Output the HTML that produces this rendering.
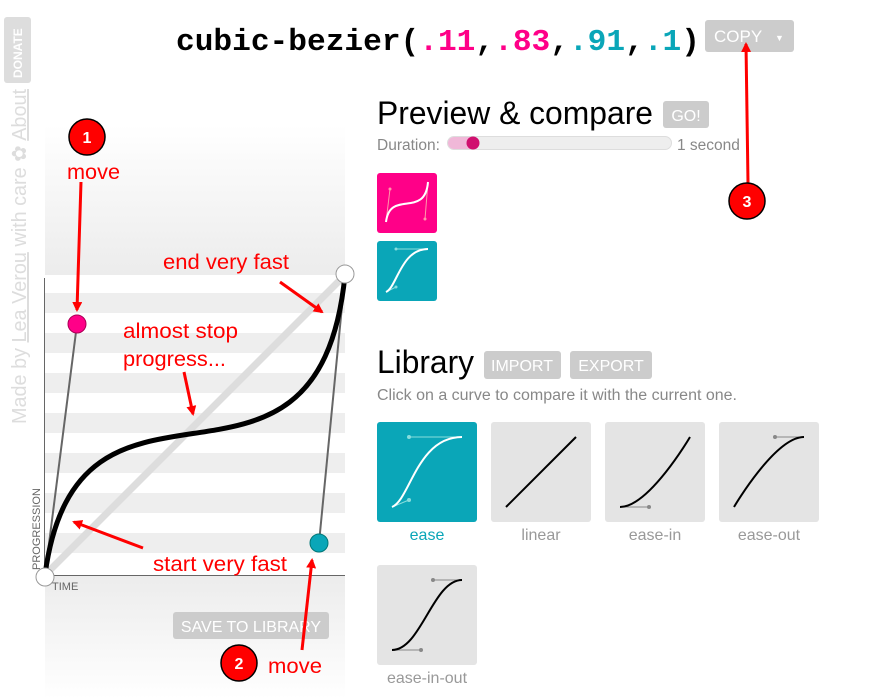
<!DOCTYPE html>
<html><head><meta charset="utf-8"><style>
html,body{margin:0;padding:0;background:#fff;width:889px;height:699px;overflow:hidden}
svg{display:block}
</style></head><body>
<svg width="889" height="699" viewBox="0 0 889 699" xmlns="http://www.w3.org/2000/svg" font-family="Liberation Sans, sans-serif">
<defs>
<linearGradient id="gt" x1="0" y1="0" x2="0" y2="1"><stop offset="0" stop-color="#fff"/><stop offset="1" stop-color="#ececec"/></linearGradient>
<linearGradient id="gb" x1="0" y1="0" x2="0" y2="1"><stop offset="0" stop-color="#ececec"/><stop offset="1" stop-color="#fff"/></linearGradient>
<marker id="ah" markerWidth="10" markerHeight="10" refX="8" refY="5" orient="auto" markerUnits="userSpaceOnUse"><path d="M0,0 L10,5 L0,10 z" fill="#f00"/></marker>
</defs>
<!-- sidebar -->
<rect x="4" y="17" width="27" height="66" rx="3" fill="#ddd"/>
<text transform="translate(22,78) rotate(-90)" font-size="12" font-weight="bold" fill="#fff">DONATE</text>
<text transform="translate(26,424) rotate(-90)" font-size="20" fill="#ddd" textLength="335" lengthAdjust="spacingAndGlyphs">Made by <tspan text-decoration="underline">Lea Verou</tspan> with care ✿ <tspan text-decoration="underline">About</tspan></text>
<!-- graph backgrounds -->
<rect x="45" y="125" width="300" height="150" fill="url(#gt)"/>
<rect x="45" y="575" width="300" height="124" fill="url(#gb)"/>
<g fill="#eee">
<rect x="45" y="293" width="300" height="20"/><rect x="45" y="333" width="300" height="20"/>
<rect x="45" y="373" width="300" height="20"/><rect x="45" y="413" width="300" height="20"/>
<rect x="45" y="453" width="300" height="20"/><rect x="45" y="493" width="300" height="20"/>
<rect x="45" y="533" width="300" height="20"/>
</g>
<line x1="44.5" y1="278" x2="44.5" y2="576" stroke="#666" stroke-width="1"/>
<line x1="44" y1="575.5" x2="345" y2="575.5" stroke="#666" stroke-width="1"/>
<text transform="translate(40,570) rotate(-90)" font-size="11" fill="#666">PROGRESSION</text>
<text x="52" y="590" font-size="11" fill="#666">TIME</text>
<line x1="45" y1="575" x2="345" y2="275" stroke="#ddd" stroke-width="7"/>
<line x1="45" y1="575" x2="77" y2="324" stroke="#666" stroke-width="2"/>
<line x1="345" y1="275" x2="319" y2="543" stroke="#666" stroke-width="2"/>
<path d="M45,575 C78,326 318,545 345,275" fill="none" stroke="#000" stroke-width="5"/>
<circle cx="77" cy="324" r="9" fill="#f08" stroke="#a05" stroke-width="1"/>
<circle cx="319" cy="543" r="9" fill="#0aa6b8" stroke="#077" stroke-width="1"/>
<circle cx="45" cy="577" r="9" fill="#fff" stroke="#999"/>
<circle cx="345" cy="274" r="9" fill="#fff" stroke="#999"/>
<rect x="173" y="612" width="156" height="27" rx="3" fill="#ccc"/>
<text x="251" y="632" font-size="16" fill="#fff" text-anchor="middle">SAVE TO LIBRARY</text>
<!-- title -->
<text x="176" y="50" style="font-family:'Liberation Mono','DejaVu Sans Mono',monospace" font-size="31" font-weight="bold" textLength="524" lengthAdjust="spacingAndGlyphs">cubic-bezier(<tspan fill="#f08">.11</tspan>,<tspan fill="#f08">.83</tspan>,<tspan fill="#0aa6b8">.91</tspan>,<tspan fill="#0aa6b8">.1</tspan>)</text>
<rect x="705" y="20" width="89" height="32" rx="3" fill="#ccc"/>
<text x="714" y="42" font-size="17" fill="#fff">COPY</text>
<text x="775" y="41" font-size="9" fill="#fff">▼</text>
<!-- preview -->
<text x="377" y="124" font-size="32" fill="#000" textLength="276" lengthAdjust="spacingAndGlyphs">Preview &amp; compare</text>
<rect x="663" y="101" width="46" height="27" rx="3" fill="#ccc"/>
<text x="686" y="121" font-size="16" fill="#fff" text-anchor="middle">GO!</text>
<text x="377" y="150" font-size="15.5" fill="#888">Duration:</text>
<rect x="447.5" y="136.5" width="224" height="13" rx="6.5" fill="#eee" stroke="#ddd"/>
<rect x="448" y="137" width="28" height="12" rx="6" fill="#f0b8d8"/>
<circle cx="473" cy="143" r="6.5" fill="#d0106f"/>
<text x="677" y="150" font-size="15.5" fill="#888">1 second</text>
<rect x="377" y="173" width="60" height="60" rx="3" fill="#f08"/>
<g stroke="#f9a" stroke-width="1"><line x1="386" y1="222" x2="390" y2="189"/><line x1="428" y1="182" x2="425" y2="219"/></g>
<circle cx="390" cy="189" r="1.5" fill="#f9a"/><circle cx="425" cy="219" r="1.5" fill="#f9a"/>
<path d="M386,222 C390,189 425,219 428,182" fill="none" stroke="#fff" stroke-width="2"/>
<rect x="377" y="241" width="60" height="60" rx="3" fill="#0aa6b8"/>
<g stroke="#8dd" stroke-width="1"><line x1="396" y1="249" x2="428" y2="249"/><line x1="386" y1="292" x2="396" y2="287"/></g>
<circle cx="396" cy="249" r="1.5" fill="#8dd"/><circle cx="396" cy="287" r="1.5" fill="#8dd"/>
<path d="M386,292 C397,287 401,249 428,249" fill="none" stroke="#fff" stroke-width="2"/>
<!-- library -->
<text x="377" y="373" font-size="32" fill="#000" textLength="97" lengthAdjust="spacingAndGlyphs">Library</text>
<rect x="484" y="351" width="77" height="28" rx="3" fill="#ccc"/>
<text x="522" y="371" font-size="16" fill="#fff" text-anchor="middle">IMPORT</text>
<rect x="570" y="351" width="82" height="28" rx="3" fill="#ccc"/>
<text x="611" y="371" font-size="16" fill="#fff" text-anchor="middle">EXPORT</text>
<text x="377" y="400" font-size="15.5" fill="#888" textLength="360" lengthAdjust="spacingAndGlyphs">Click on a curve to compare it with the current one.</text>
<rect x="377" y="422" width="100" height="100" rx="3" fill="#0aa6b8"/>
<g stroke="#8dd" stroke-width="1"><line x1="409" y1="437" x2="462" y2="437"/><line x1="392" y1="507" x2="409" y2="500"/></g>
<circle cx="409" cy="437" r="2" fill="#8dd"/><circle cx="409" cy="500" r="2" fill="#8dd"/>
<path d="M392,507 C410,500 417,437 462,437" fill="none" stroke="#fff" stroke-width="2"/>
<text x="427" y="540" font-size="16" fill="#0aa6b8" text-anchor="middle">ease</text>
<rect x="491" y="422" width="100" height="100" rx="3" fill="#e4e4e4"/>
<line x1="506" y1="507" x2="576" y2="437" stroke="#000" stroke-width="2"/>
<text x="541" y="540" font-size="16" fill="#999" text-anchor="middle">linear</text>
<rect x="605" y="422" width="100" height="100" rx="3" fill="#e4e4e4"/>
<line x1="620" y1="507" x2="649" y2="507" stroke="#888"/><circle cx="649" cy="507" r="2" fill="#888"/>
<path d="M620,507 C649,507 690,437 690,437" fill="none" stroke="#000" stroke-width="2"/>
<text x="655" y="540" font-size="16" fill="#999" text-anchor="middle">ease-in</text>
<rect x="719" y="422" width="100" height="100" rx="3" fill="#e4e4e4"/>
<line x1="775" y1="437" x2="804" y2="437" stroke="#888"/><circle cx="775" cy="437" r="2" fill="#888"/>
<path d="M734,507 C734,507 775,437 804,437" fill="none" stroke="#000" stroke-width="2"/>
<text x="769" y="540" font-size="16" fill="#999" text-anchor="middle">ease-out</text>
<rect x="377" y="565" width="100" height="100" rx="3" fill="#e4e4e4"/>
<line x1="392" y1="650" x2="421" y2="650" stroke="#888"/><circle cx="421" cy="650" r="2" fill="#888"/>
<line x1="433" y1="580" x2="462" y2="580" stroke="#888"/><circle cx="433" cy="580" r="2" fill="#888"/>
<path d="M392,650 C421,650 433,580 462,580" fill="none" stroke="#000" stroke-width="2"/>
<text x="427" y="683" font-size="16" fill="#999" text-anchor="middle">ease-in-out</text>
<!-- annotations -->
<g stroke="#f00" stroke-width="3" fill="none" marker-end="url(#ah)">
<line x1="81" y1="182" x2="77" y2="310"/>
<line x1="280" y1="282" x2="322" y2="312"/>
<line x1="184" y1="372" x2="193" y2="414"/>
<line x1="143" y1="548" x2="74" y2="522"/>
<line x1="302" y1="650" x2="312" y2="560"/>
<line x1="748" y1="183" x2="746" y2="44"/>
</g>
<g font-size="21" fill="#f00">
<text x="67" y="179" textLength="53" lengthAdjust="spacingAndGlyphs">move</text>
<text x="163" y="269" textLength="126" lengthAdjust="spacingAndGlyphs">end very fast</text>
<text x="123" y="338" textLength="115" lengthAdjust="spacingAndGlyphs">almost stop</text>
<text x="123" y="366" textLength="103" lengthAdjust="spacingAndGlyphs">progress...</text>
<text x="153" y="571" textLength="134" lengthAdjust="spacingAndGlyphs">start very fast</text>
<text x="268" y="673" textLength="54" lengthAdjust="spacingAndGlyphs">move</text>
</g>
<g stroke="#000" stroke-width="1.5" fill="#f00">
<circle cx="87" cy="137" r="18"/><circle cx="239" cy="663" r="18"/><circle cx="747" cy="201" r="18"/>
</g>
<g font-size="16" font-weight="bold" fill="#fff" text-anchor="middle">
<text x="87" y="143">1</text><text x="239" y="669">2</text><text x="747" y="207">3</text>
</g>
</svg>
</body></html>
